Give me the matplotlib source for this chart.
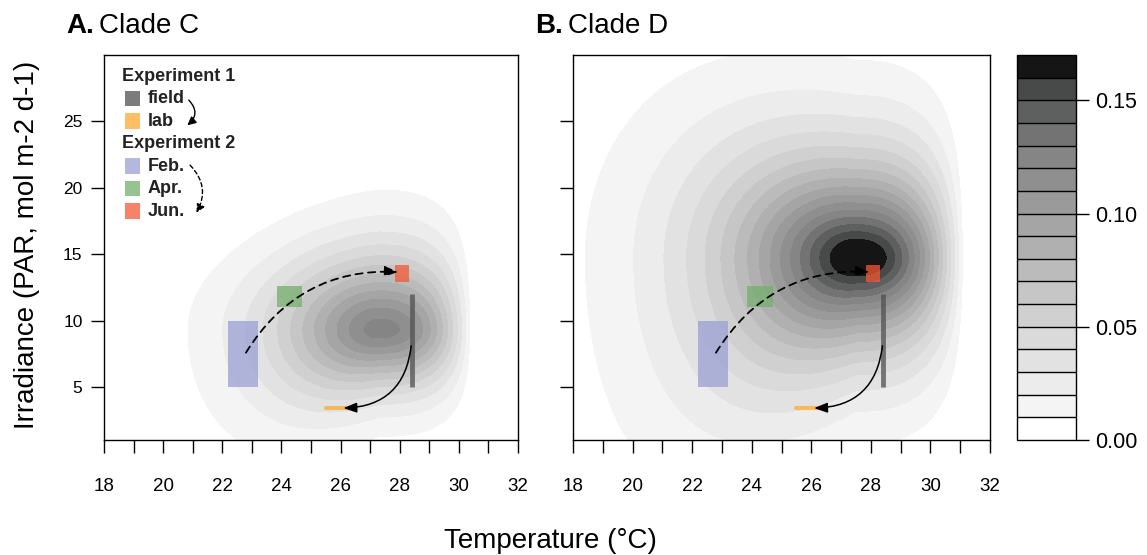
import numpy as np
import matplotlib
matplotlib.use("Agg")
import matplotlib.pyplot as plt
from matplotlib.patches import Rectangle, FancyArrowPatch

plt.rcParams["font.family"] = ["Liberation Sans", "DejaVu Sans"]

# density surface parameters (clade C, clade D)
clades = ["Clade C", "Clade D"]
panel_tags = ["A.", "B."]
peak = [0.125, 0.178]
t_opt = [27.3, 27.5]
t_max = [30.5, 31.2]
t_width_left = [3.62, 4.27]
t_width_right = [8.0, 7.0]
i_opt = [9.3, 14.7]
i_width_up = [5.9, 7.0]
i_width_down = [4.5, 6.6]
up_spread = [-0.15, 0.25]
down_spread = [0.5, 0.7]
shape_pow = [1.6, 1.4]
cut_pow = [2.5, 2.5]

levels = np.arange(0, 0.171, 0.01)
greys = ["#ffffff", "#f4f4f4", "#ececec", "#e2e2e2", "#dadada", "#d0d0d0",
         "#c6c6c6", "#bbbbbb", "#b0b0b0", "#a5a5a5", "#9a9a9a", "#8f8f8f",
         "#858585", "#737373", "#5e5f5f", "#484a4a", "#151515"]

# experiment markers (temperature, irradiance)
feb_t = [22.2, 23.2]
feb_i = [5.0, 10.0]
apr_t = [23.85, 24.7]
apr_i = [11.0, 12.6]
jun_t = [27.85, 28.3]
jun_i = [12.9, 14.2]
field_t = 28.4
field_i = [5.0, 12.0]
lab_t = [25.5, 26.3]
lab_i = 3.4
dash_arrow = [(22.75, 7.4), (28.05, 13.65)]
solid_arrow = [(28.4, 8.3), (26.0, 3.4)]

col_feb = "#9ca0d3"
col_apr = "#73af6c"
col_jun = "#f35834"
col_field = "#505050"
col_lab = "#fcaa30"
mark_alpha = 0.75


def surface(T, I, k):
    left = np.clip(t_opt[k] - T, 0, None)
    right = np.clip(T - t_opt[k], 0, None)
    dt = left / t_width_left[k] + right / t_width_right[k]
    wu = i_width_up[k] + up_spread[k] * left
    wd = i_width_down[k] + down_spread[k] * left
    di = np.where(I > i_opt[k], (I - i_opt[k]) / wu, (i_opt[k] - I) / wd)
    r = np.sqrt(dt ** 2 + di ** 2)
    u = np.clip(right / (t_max[k] - t_opt[k]), 0, 1)
    return peak[k] * np.exp(-r ** shape_pow[k]) * (1 - u ** cut_pow[k])


tt = np.linspace(18, 32, 400)
ii = np.linspace(1, 30, 400)
T, I = np.meshgrid(tt, ii)

fig = plt.figure(figsize=(11.47, 5.55), dpi=100)
ax_pos = [[0.0907, 0.2072, 0.3609, 0.6937], [0.4996, 0.2072, 0.3635, 0.6937]]
axes = [fig.add_axes(p) for p in ax_pos]

for k, ax in enumerate(axes):
    Z = np.clip(surface(T, I, k), 0, 0.1699)
    cs = ax.contourf(T, I, Z, levels=levels, colors=greys)
    ax.set_xlim(18, 32)
    ax.set_ylim(1, 30)
    ax.set_xticks(np.arange(18, 33, 1))
    ax.set_xticklabels([str(v) if v % 2 == 0 else "" for v in range(18, 33)])
    ax.set_yticks([5, 10, 15, 20, 25])
    ax.tick_params(direction="out", length=9.5, width=1, colors="black")
    ax.tick_params(axis="x", pad=18, labelsize=13.5)
    ax.tick_params(axis="y", pad=6, labelsize=12.5)
    for s in ax.spines.values():
        s.set_linewidth(1)
    if k == 1:
        ax.set_yticklabels([])

    ax.add_patch(Rectangle((feb_t[0], feb_i[0]), feb_t[1] - feb_t[0], feb_i[1] - feb_i[0],
                           color=col_feb, alpha=mark_alpha, lw=0, zorder=3))
    ax.add_patch(Rectangle((apr_t[0], apr_i[0]), apr_t[1] - apr_t[0], apr_i[1] - apr_i[0],
                           color=col_apr, alpha=mark_alpha, lw=0, zorder=3))
    ax.add_patch(Rectangle((jun_t[0], jun_i[0]), jun_t[1] - jun_t[0], jun_i[1] - jun_i[0],
                           color=col_jun, alpha=mark_alpha, lw=0, zorder=3))
    ax.plot([field_t, field_t], field_i, color=col_field, alpha=mark_alpha, lw=3.5,
            solid_capstyle="butt", zorder=3)
    ax.plot(lab_t, [lab_i, lab_i], color=col_lab, alpha=mark_alpha, lw=3,
            solid_capstyle="round", zorder=3)

    ax.add_patch(FancyArrowPatch(dash_arrow[0], dash_arrow[1], connectionstyle="arc3,rad=-0.3",
                                 arrowstyle="-|>,head_length=8,head_width=3", linestyle=(0, (4, 3)),
                                 color="black", lw=1.3, zorder=4))
    ax.add_patch(FancyArrowPatch(solid_arrow[0], solid_arrow[1], connectionstyle="arc3,rad=-0.45",
                                 arrowstyle="-|>,head_length=8,head_width=3",
                                 color="black", lw=1.1, zorder=4))

    fig.text(ax_pos[k][0] - 0.033, 0.94, panel_tags[k], fontsize=20, fontweight="bold")
    fig.text(ax_pos[k][0] - 0.004, 0.94, clades[k], fontsize=20)

# legend in panel A
ax = axes[0]
legend_rows = [("Experiment 1", None), ("field", col_field), ("lab", col_lab),
               ("Experiment 2", None), ("Feb.", col_feb), ("Apr.", col_apr), ("Jun.", col_jun)]
y0 = 0.945
dy = 0.0584
for n, (lab, c) in enumerate(legend_rows):
    y = y0 - n * dy
    if c is None:
        ax.text(0.043, y, lab, transform=ax.transAxes, fontsize=13, fontweight="bold",
                va="center", color="#222222")
    else:
        ax.add_patch(Rectangle((0.051, y - 0.02), 0.036, 0.04, transform=ax.transAxes,
                               color=c, alpha=mark_alpha, lw=0))
        ax.text(0.106, y, lab, transform=ax.transAxes, fontsize=13, fontweight="bold",
                va="center", color="#222222")
ax.add_patch(FancyArrowPatch((0.2, 0.888), (0.196, 0.813), transform=ax.transAxes,
                             connectionstyle="arc3,rad=-0.6", arrowstyle="-|>,head_length=5,head_width=2.5",
                             color="black", lw=1))
ax.add_patch(FancyArrowPatch((0.203, 0.719), (0.22, 0.584), transform=ax.transAxes,
                             connectionstyle="arc3,rad=-0.4", arrowstyle="-|>,head_length=5,head_width=2.5",
                             linestyle=(0, (3, 2)), color="black", lw=1))

cax = fig.add_axes([0.8867, 0.2072, 0.0514, 0.6937])
cb = fig.colorbar(cs, cax=cax, ticks=[0, 0.05, 0.10, 0.15], drawedges=True, format="%.2f")
cb.outline.set_linewidth(1)
cb.dividers.set_linewidth(1)
cax.tick_params(length=9.5, width=1, labelsize=15.5, pad=4)

fig.text(0.48, 0.013, "Temperature (°C)", fontsize=20, ha="center")
fig.text(0.012, 0.558, "Irradiance (PAR, mol m-2 d-1)", fontsize=20, rotation=90, va="center")

fig.savefig("out.png", dpi=100)
